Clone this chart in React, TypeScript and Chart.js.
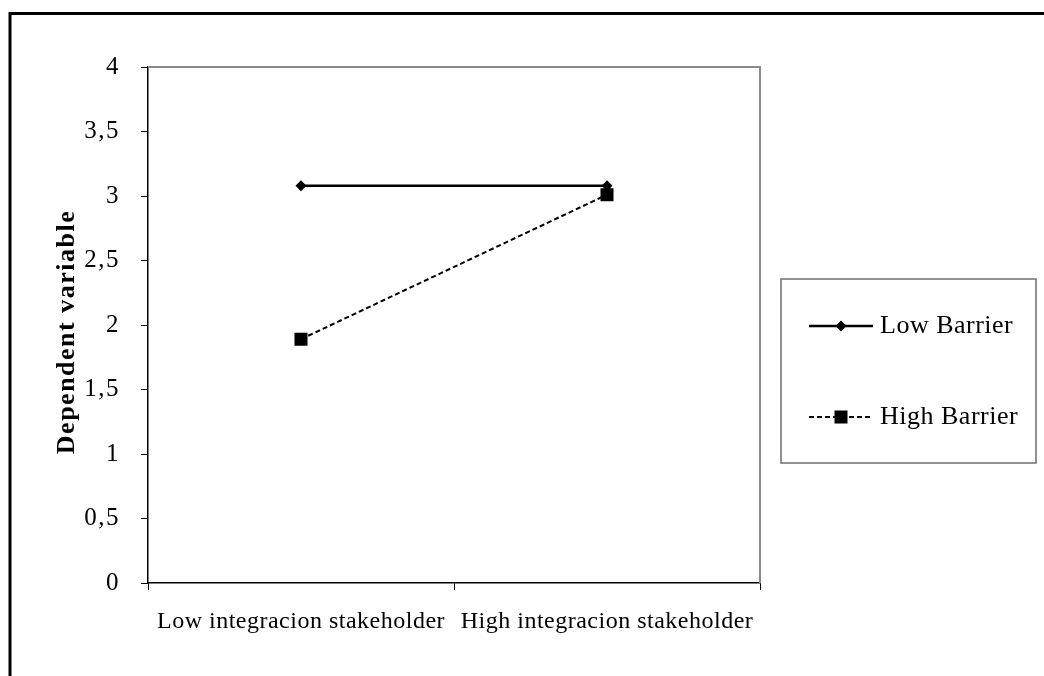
import React, { useEffect, useRef } from "react";
import { Chart, registerables } from "chart.js";

Chart.register(...registerables);

const categories = ["Low integracion stakeholder", "High integracion stakeholder"];
const lowBarrier = [3.08, 3.08];
const highBarrier = [1.89, 3.01];
const seriesNames = ["Low Barrier", "High Barrier"];
const yAxisTitle = "Dependent variable";

const SERIF = "'Liberation Serif', 'Times New Roman', serif";

function patchSpacing(s: any, labelSpacing: string, titleSpacing: string, titleShift: number) {
  if (s.__patched) return;
  s.__patched = true;
  const origLabels = s.drawLabels;
  const origTitle = s.drawTitle;
  s.drawLabels = function (...args: any[]) {
    const ctx = this.ctx;
    ctx.save();
    ctx.letterSpacing = labelSpacing;
    origLabels.apply(this, args);
    ctx.restore();
  };
  s.drawTitle = function (...args: any[]) {
    const ctx = this.ctx;
    ctx.save();
    ctx.letterSpacing = titleSpacing;
    ctx.translate(0, titleShift);
    origTitle.apply(this, args);
    ctx.restore();
  };
}

const framePlugin = {
  id: "framePlugin",
  afterDraw(chart: any) {
    const ctx = chart.ctx;
    const { left, right, top, bottom } = chart.chartArea;
    ctx.save();
    // outer frame (top and left visible)
    ctx.strokeStyle = "#000";
    ctx.lineWidth = 3;
    ctx.beginPath();
    ctx.moveTo(10, 700);
    ctx.lineTo(10, 13.5);
    ctx.lineTo(1060, 13.5);
    ctx.stroke();
    // plot area top/right border
    ctx.strokeStyle = "#8a8a8a";
    ctx.lineWidth = 2;
    ctx.beginPath();
    ctx.moveTo(left, top);
    ctx.lineTo(right, top);
    ctx.lineTo(right, bottom);
    ctx.stroke();
    // legend box
    const bx = 781, by = 279, bw = 255, bh = 184;
    ctx.strokeStyle = "#6e6e6e";
    ctx.lineWidth = 1.5;
    ctx.strokeRect(bx, by, bw, bh);
    const items = chart.data.datasets;
    const ys = [326, 417];
    items.forEach((ds: any, i: number) => {
      const y = ys[i];
      ctx.strokeStyle = ds.borderColor;
      ctx.lineWidth = ds.borderWidth;
      ctx.setLineDash(ds.borderDash || []);
      ctx.beginPath();
      ctx.moveTo(809, y);
      ctx.lineTo(873, y);
      ctx.stroke();
      ctx.setLineDash([]);
      ctx.fillStyle = "#000";
      ctx.beginPath();
      if (ds.pointStyle === "rect") {
        ctx.rect(841 - 6.5, y - 6.5, 13, 13);
      } else {
        const r = 5.5;
        ctx.moveTo(841, y - r);
        ctx.lineTo(841 + r, y);
        ctx.lineTo(841, y + r);
        ctx.lineTo(841 - r, y);
        ctx.closePath();
      }
      ctx.fill();
      ctx.fillStyle = "#000";
      ctx.font = `26px ${SERIF}`;
      (ctx as any).letterSpacing = "0.5px";
      ctx.textAlign = "left";
      ctx.textBaseline = "middle";
      ctx.fillText(ds.label, 880, y);
      (ctx as any).letterSpacing = "0px";
    });
    ctx.restore();
  },
};

export default function App() {
  const ref = useRef<HTMLCanvasElement>(null);
  useEffect(() => {
    const chart = new Chart(ref.current!, {
      type: "line",
      data: {
        labels: categories,
        datasets: [
          {
            label: seriesNames[0],
            data: lowBarrier,
            borderColor: "#000",
            backgroundColor: "#000",
            borderWidth: 2.5,
            pointStyle: "rectRot",
            pointRadius: 5.5,
            pointBackgroundColor: "#000",
            pointBorderWidth: 0,
          },
          {
            label: seriesNames[1],
            data: highBarrier,
            borderColor: "#000",
            backgroundColor: "#000",
            borderWidth: 2,
            borderDash: [5, 3],
            pointStyle: "rect",
            pointRadius: 9.2,
            pointBackgroundColor: "#000",
            pointBorderWidth: 0,
          },
        ],
      },
      options: {
        animation: false,
        responsive: true,
        maintainAspectRatio: false,
        layout: { padding: { left: 0, top: 67, right: 284, bottom: 0 }, autoPadding: false },
        plugins: { legend: { display: false }, tooltip: { enabled: false } },
        scales: {
          x: {
            type: "category",
            offset: true,
            grid: { offset: true, drawOnChartArea: false, tickLength: 7, color: "#000", lineWidth: 1 },
            border: { color: "#000", width: 1.5 },
            ticks: { color: "#000", font: { family: SERIF, size: 24 }, padding: 17, maxRotation: 0, autoSkip: false },
            afterFit: (s: any) => {
              s.height = 93;
              patchSpacing(s, "0.5px", "0px", 0);
            },
          },
          y: {
            min: 0,
            max: 4,
            ticks: {
              stepSize: 0.5,
              color: "#000",
              font: { family: SERIF, size: 25 },
              padding: 21,
              callback: (v: any) => String(v).replace(".", ","),
            },
            grid: { drawOnChartArea: false, tickLength: 7, color: "#000", lineWidth: 1 },
            border: { color: "#000", width: 1.5 },
            title: {
              display: true,
              text: yAxisTitle,
              color: "#000",
              font: { family: SERIF, size: 26, weight: "bold" },
              padding: { top: 52, bottom: 0 },
            },
            afterFit: (s: any) => {
              s.width = 148;
              patchSpacing(s, "1.5px", "1.5px", 7);
            },
          },
        },
      },
      plugins: [framePlugin],
    });
    return () => chart.destroy();
  }, []);
  return (
    <div style={{ position: "absolute", left: 0, top: 0, width: 1044, height: 676, background: "#fff" }}>
      <canvas ref={ref} />
    </div>
  );
}
